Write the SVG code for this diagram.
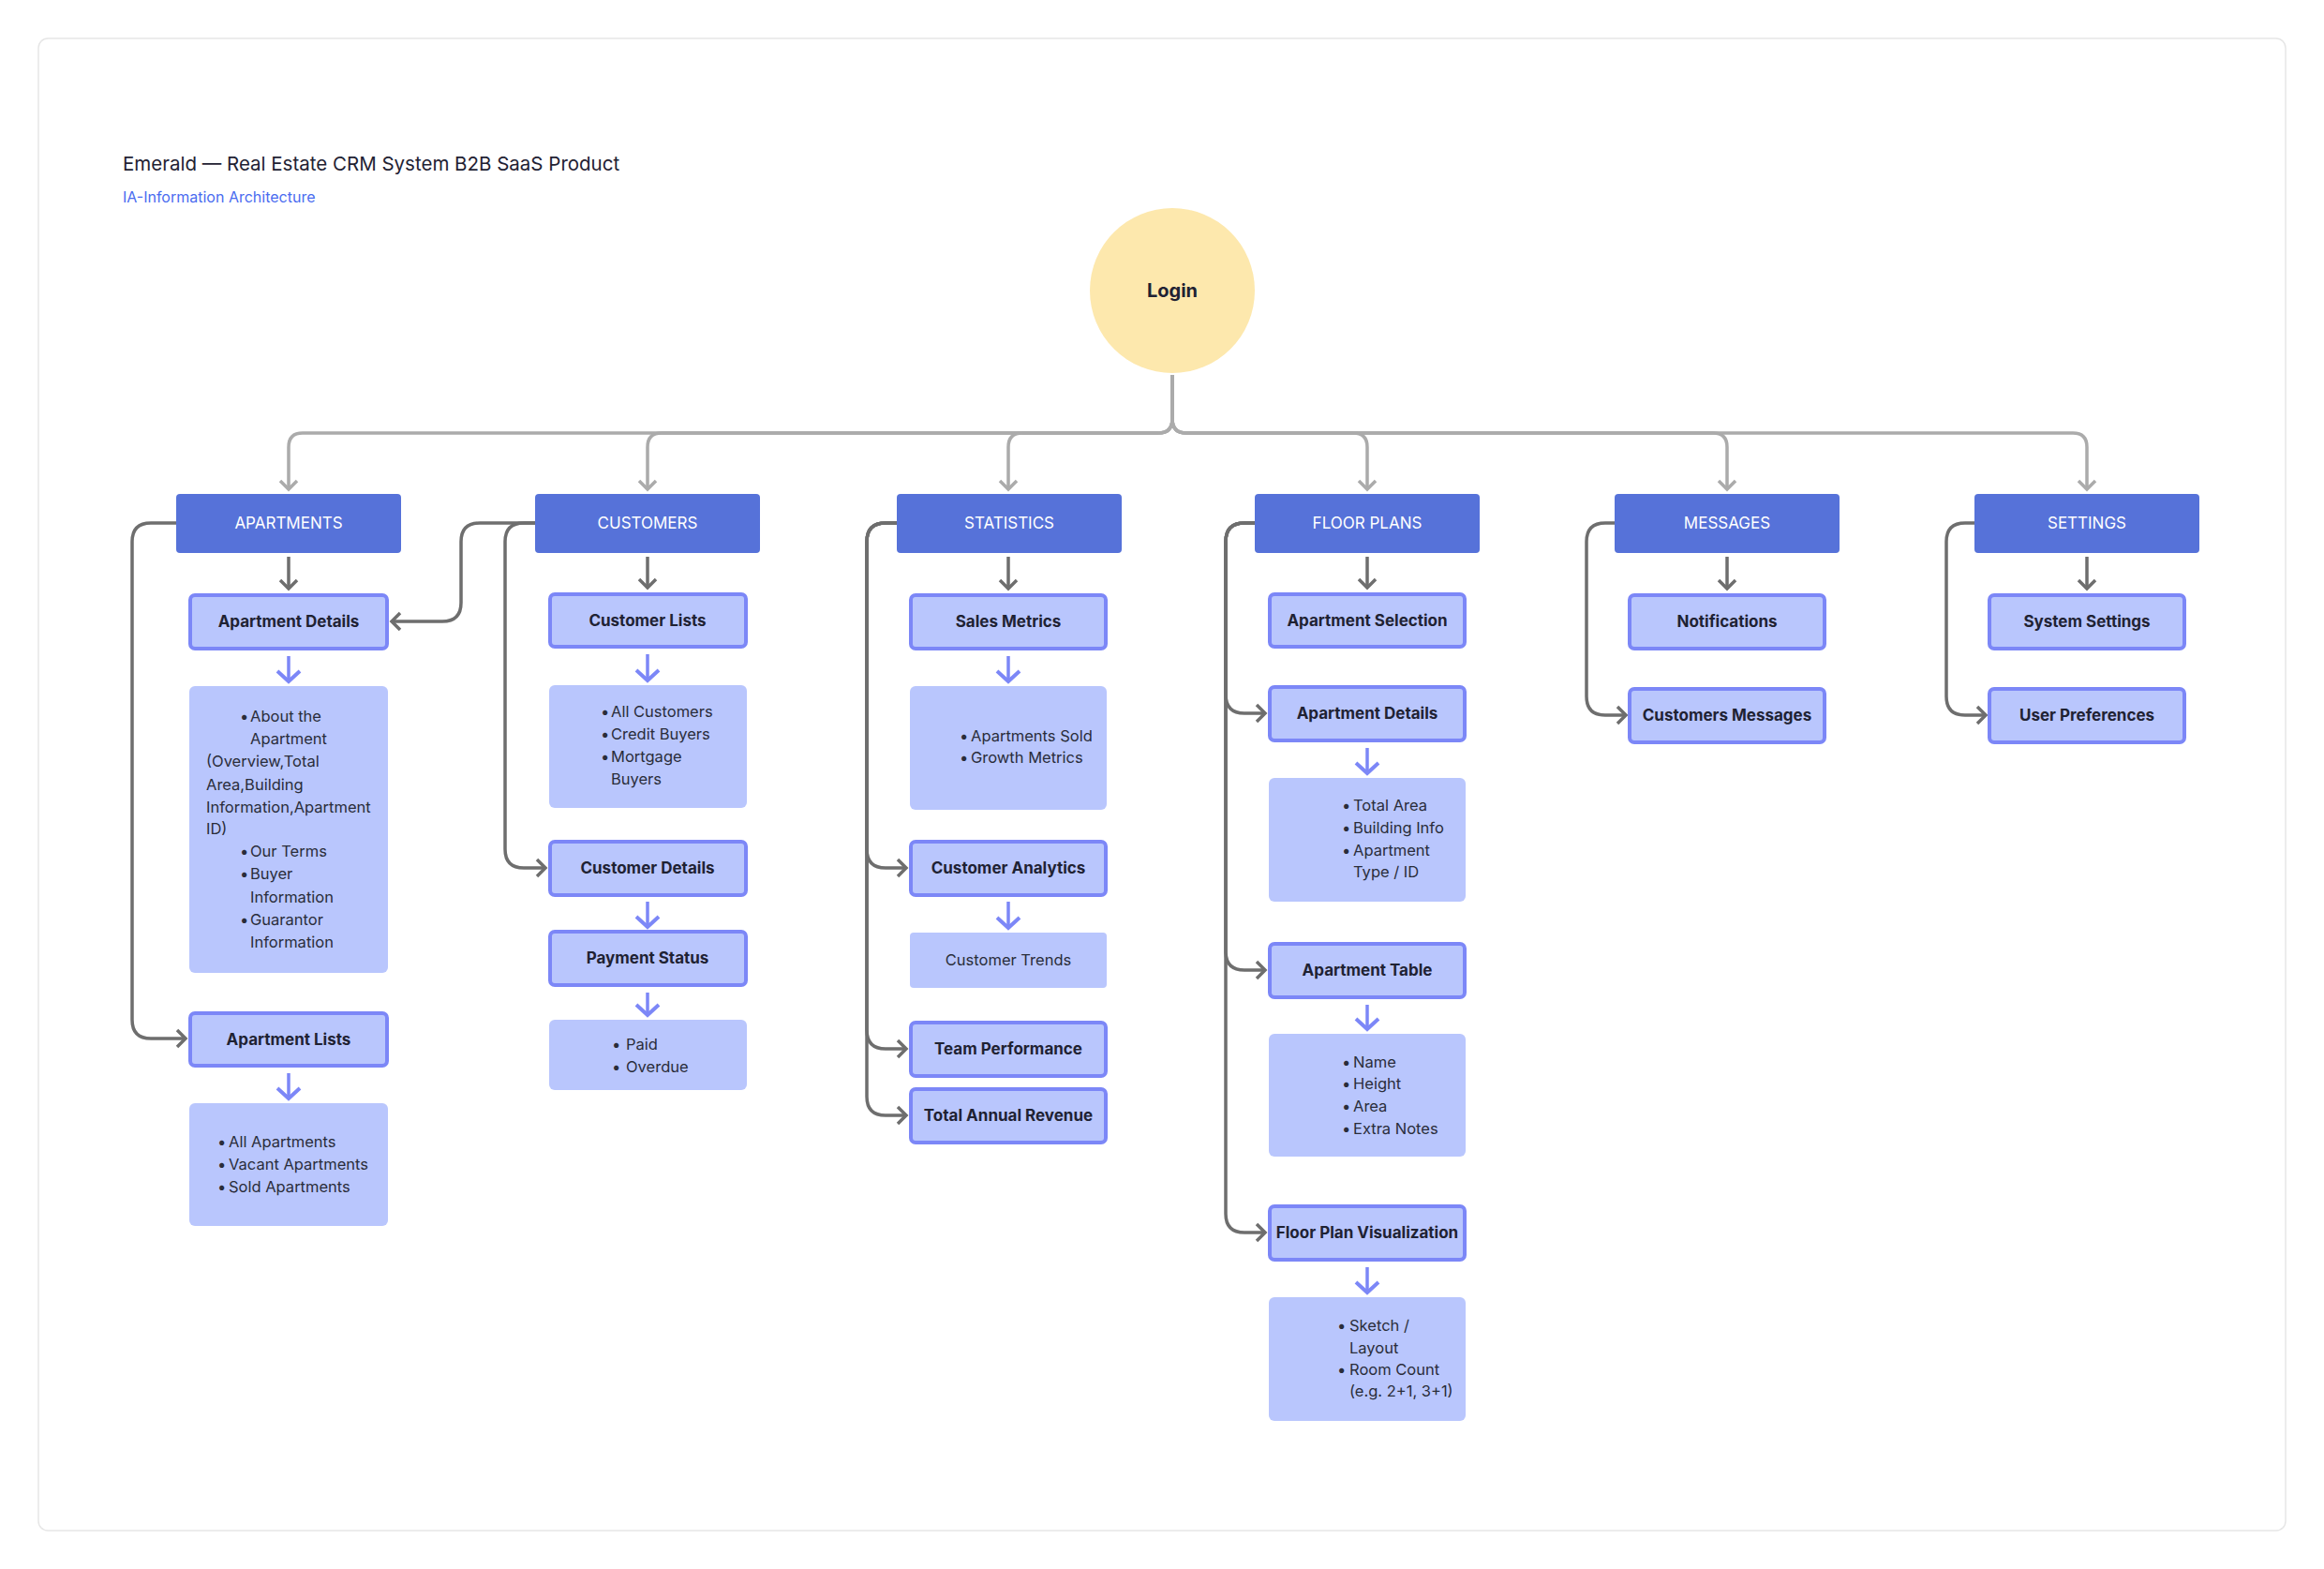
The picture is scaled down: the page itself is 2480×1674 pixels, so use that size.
<svg xmlns="http://www.w3.org/2000/svg" width="2480" height="1674" viewBox="0 0 2480 1674">
<style>
text{font-family:Inter,"Liberation Sans",sans-serif;fill:#1f2233}
.cat rect{fill:#5672d9}
.cat text{fill:#fff;font-size:17px;text-anchor:middle;dominant-baseline:central}
.sub rect{fill:#b9c6fd;stroke:#7c87f7;stroke-width:4}
.sub text{font-size:17px;font-weight:700;text-anchor:middle;dominant-baseline:central}
.info rect{fill:#b9c6fd}
.info text{font-size:16.5px;dominant-baseline:central;fill:#2a2d3a}
.g{fill:none;stroke:#6e6e6e;stroke-width:3.5}
.lg{fill:none;stroke:#ababab;stroke-width:3.5}
.b{fill:none;stroke:#7c87f7;stroke-width:3.5}
</style>
<defs>
<marker id="ad" markerUnits="userSpaceOnUse" markerWidth="24" markerHeight="24" viewBox="-12 -12 24 24" refX="0" refY="0" orient="auto"><path d="M-9,-9 L0,0 L-9,9" fill="none" stroke="#6e6e6e" stroke-width="3.5"/></marker>
<marker id="al" markerUnits="userSpaceOnUse" markerWidth="24" markerHeight="24" viewBox="-12 -12 24 24" refX="0" refY="0" orient="auto"><path d="M-9,-9 L0,0 L-9,9" fill="none" stroke="#ababab" stroke-width="3.5"/></marker>
<marker id="ab" markerUnits="userSpaceOnUse" markerWidth="28" markerHeight="28" viewBox="-14 -14 28 28" refX="0" refY="0" orient="auto"><path d="M-11,-12 L0,0 L-11,12" fill="none" stroke="#7c87f7" stroke-width="4"/></marker>
</defs>
<rect x="0" y="0" width="2480" height="1674" fill="#fff"/>
<rect x="41" y="41" width="2398" height="1592" rx="10" fill="#fff" stroke="#e6e6e6" stroke-width="1.5"/>
<text x="131" y="174" font-size="20.5" dominant-baseline="central">Emerald — Real Estate CRM System B2B SaaS Product</text>
<text x="131" y="210" font-size="16" dominant-baseline="central" style="fill:#4a6cf0">IA-Information Architecture</text>

<g id="connectors">
<path class="lg" marker-end="url(#al)" d="M1251,400 V447 Q1251,462 1236,462 H323 Q308,462 308,477 V522"/>
<path class="lg" marker-end="url(#al)" d="M1251,400 V447 Q1251,462 1236,462 H706 Q691,462 691,477 V522"/>
<path class="lg" marker-end="url(#al)" d="M1251,400 V447 Q1251,462 1236,462 H1091 Q1076,462 1076,477 V522"/>
<path class="lg" marker-end="url(#al)" d="M1251,400 V447 Q1251,462 1266,462 H1444 Q1459,462 1459,477 V522"/>
<path class="lg" marker-end="url(#al)" d="M1251,400 V447 Q1251,462 1266,462 H1828 Q1843,462 1843,477 V522"/>
<path class="lg" marker-end="url(#al)" d="M1251,400 V447 Q1251,462 1266,462 H2212 Q2227,462 2227,477 V522"/>
<g marker-end="url(#ad)">
<path class="g" d="M308,594 V628"/><path class="g" d="M691,594 V627"/><path class="g" d="M1076,594 V628"/>
<path class="g" d="M1459,594 V627"/><path class="g" d="M1843,594 V628"/><path class="g" d="M2227,594 V628"/>
<path class="g" d="M188,558 H161 Q141,558 141,578 V1088 Q141,1108 161,1108 H198"/>
<path class="g" d="M571,558 H559 Q539,558 539,578 V906 Q539,926 559,926 H582"/>
<path class="g" d="M571,558 H512 Q492,558 492,578 V643 Q492,663 472,663 H418"/>
<path class="g" d="M957,558 H945 Q925,558 925,578 V906 Q925,926 945,926 H967"/>
<path class="g" d="M957,558 H945 Q925,558 925,578 V1099 Q925,1119 945,1119 H967"/>
<path class="g" d="M957,558 H945 Q925,558 925,578 V1170 Q925,1190 945,1190 H967"/>
<path class="g" d="M1339,558 H1328 Q1308,558 1308,578 V741 Q1308,761 1328,761 H1350"/>
<path class="g" d="M1339,558 H1328 Q1308,558 1308,578 V1015 Q1308,1035 1328,1035 H1350"/>
<path class="g" d="M1339,558 H1328 Q1308,558 1308,578 V1295 Q1308,1315 1328,1315 H1350"/>
<path class="g" d="M1723,558 H1713 Q1693,558 1693,578 V743 Q1693,763 1713,763 H1735"/>
<path class="g" d="M2107,558 H2097 Q2077,558 2077,578 V743 Q2077,763 2097,763 H2119"/>
</g>
<g marker-end="url(#ab)">
<path class="b" d="M308,700 V727"/><path class="b" d="M308,1145 V1172"/>
<path class="b" d="M691,698 V726"/><path class="b" d="M691,962 V989"/><path class="b" d="M691,1059 V1083"/>
<path class="b" d="M1076,700 V727"/><path class="b" d="M1076,962 V990"/>
<path class="b" d="M1459,798 V825"/><path class="b" d="M1459,1072 V1098"/><path class="b" d="M1459,1352 V1379"/>
</g>
</g>

<g id="login"><circle cx="1251" cy="310" r="88" fill="#fde8ad"/><text x="1251" y="310" font-size="20" font-weight="700" text-anchor="middle" dominant-baseline="central">Login</text></g>

<g id="apartments" class="cat"><rect x="188" y="527" width="240" height="63" rx="4"/><text x="308" y="558">APARTMENTS</text></g>
<g id="customers" class="cat"><rect x="571" y="527" width="240" height="63" rx="4"/><text x="691" y="558">CUSTOMERS</text></g>
<g id="statistics" class="cat"><rect x="957" y="527" width="240" height="63" rx="4"/><text x="1077" y="558">STATISTICS</text></g>
<g id="floorplans" class="cat"><rect x="1339" y="527" width="240" height="63" rx="4"/><text x="1459" y="558">FLOOR PLANS</text></g>
<g id="messages" class="cat"><rect x="1723" y="527" width="240" height="63" rx="4"/><text x="1843" y="558">MESSAGES</text></g>
<g id="settings" class="cat"><rect x="2107" y="527" width="240" height="63" rx="4"/><text x="2227" y="558">SETTINGS</text></g>

<g id="apt-details" class="sub"><rect x="203" y="635" width="210" height="57" rx="5"/><text x="308" y="663">Apartment Details</text></g>
<g id="apt-details-info" class="info"><rect x="202" y="732" width="212" height="306" rx="6"/>
<text x="256" y="764">•</text><text x="267" y="764">About the</text><text x="267" y="788">Apartment</text>
<text x="220" y="812">(Overview,Total</text><text x="220" y="837">Area,Building</text><text x="220" y="861">Information,Apartment</text><text x="220" y="884">ID)</text>
<text x="256" y="908">•</text><text x="267" y="908">Our Terms</text>
<text x="256" y="932">•</text><text x="267" y="932">Buyer</text><text x="267" y="957">Information</text>
<text x="256" y="981">•</text><text x="267" y="981">Guarantor</text><text x="267" y="1005">Information</text></g>
<g id="apt-lists" class="sub"><rect x="203" y="1081" width="210" height="56" rx="5"/><text x="308" y="1109">Apartment Lists</text></g>
<g id="apt-lists-info" class="info"><rect x="202" y="1177" width="212" height="131" rx="6"/>
<text x="232" y="1218">•</text><text x="244" y="1218">All Apartments</text>
<text x="232" y="1242">•</text><text x="244" y="1242">Vacant Apartments</text>
<text x="232" y="1266">•</text><text x="244" y="1266">Sold Apartments</text></g>

<g id="cust-lists" class="sub"><rect x="587" y="634" width="209" height="56" rx="5"/><text x="691" y="662">Customer  Lists</text></g>
<g id="cust-lists-info" class="info"><rect x="586" y="731" width="211" height="131" rx="6"/>
<text x="641" y="759">•</text><text x="652" y="759">All Customers</text>
<text x="641" y="783">•</text><text x="652" y="783">Credit Buyers</text>
<text x="641" y="807">•</text><text x="652" y="807">Mortgage</text><text x="652" y="831">Buyers</text></g>
<g id="cust-details" class="sub"><rect x="587" y="898" width="209" height="57" rx="5"/><text x="691" y="926">Customer  Details</text></g>
<g id="payment" class="sub"><rect x="587" y="994" width="209" height="57" rx="5"/><text x="691" y="1022">Payment Status</text></g>
<g id="payment-info" class="info"><rect x="586" y="1088" width="211" height="75" rx="6"/>
<text x="653" y="1114">•</text><text x="668" y="1114">Paid</text>
<text x="653" y="1138">•</text><text x="668" y="1138">Overdue</text></g>

<g id="sales" class="sub"><rect x="972" y="635" width="208" height="57" rx="5"/><text x="1076" y="663">Sales Metrics</text></g>
<g id="sales-info" class="info"><rect x="971" y="732" width="210" height="132" rx="6"/>
<text x="1024" y="785">•</text><text x="1036" y="785">Apartments Sold</text>
<text x="1024" y="808">•</text><text x="1036" y="808">Growth Metrics</text></g>
<g id="cust-analytics" class="sub"><rect x="972" y="898" width="208" height="57" rx="5"/><text x="1076" y="926">Customer Analytics</text></g>
<g id="cust-trends" class="info"><rect x="971" y="995" width="210" height="59" rx="4"/><text x="1076" y="1024" text-anchor="middle">Customer Trends</text></g>
<g id="team" class="sub"><rect x="972" y="1091" width="208" height="57" rx="5"/><text x="1076" y="1119">Team Performance</text></g>
<g id="revenue" class="sub"><rect x="972" y="1162" width="208" height="57" rx="5"/><text x="1076" y="1190">Total Annual Revenue</text></g>

<g id="apt-selection" class="sub"><rect x="1355" y="634" width="208" height="56" rx="5"/><text x="1459" y="662">Apartment Selection</text></g>
<g id="fp-details" class="sub"><rect x="1355" y="733" width="208" height="57" rx="5"/><text x="1459" y="761">Apartment Details</text></g>
<g id="fp-details-info" class="info"><rect x="1354" y="830" width="210" height="132" rx="6"/>
<text x="1432" y="859">•</text><text x="1444" y="859">Total Area</text>
<text x="1432" y="883">•</text><text x="1444" y="883">Building Info</text>
<text x="1432" y="907">•</text><text x="1444" y="907">Apartment</text><text x="1444" y="930">Type / ID</text></g>
<g id="apt-table" class="sub"><rect x="1355" y="1007" width="208" height="57" rx="5"/><text x="1459" y="1035">Apartment Table</text></g>
<g id="apt-table-info" class="info"><rect x="1354" y="1103" width="210" height="131" rx="6"/>
<text x="1432" y="1133">•</text><text x="1444" y="1133">Name</text>
<text x="1432" y="1156">•</text><text x="1444" y="1156">Height</text>
<text x="1432" y="1180">•</text><text x="1444" y="1180">Area</text>
<text x="1432" y="1204">•</text><text x="1444" y="1204">Extra Notes</text></g>
<g id="fp-viz" class="sub"><rect x="1355" y="1287" width="208" height="57" rx="5"/><text x="1459" y="1315">Floor Plan Visualization</text></g>
<g id="fp-viz-info" class="info"><rect x="1354" y="1384" width="210" height="132" rx="6"/>
<text x="1427" y="1414" font-size="15.5">•</text><text x="1440" y="1414" font-size="15.5">Sketch /</text><text x="1440" y="1438" font-size="15.5">Layout</text>
<text x="1427" y="1461" font-size="15.5">•</text><text x="1440" y="1461" font-size="15.5">Room Count</text><text x="1440" y="1484" font-size="15.5">(e.g. 2+1, 3+1)</text></g>

<g id="notifications" class="sub"><rect x="1739" y="635" width="208" height="57" rx="5"/><text x="1843" y="663">Notifications</text></g>
<g id="cust-messages" class="sub"><rect x="1739" y="735" width="208" height="57" rx="5"/><text x="1843" y="763">Customers Messages</text></g>
<g id="system-settings" class="sub"><rect x="2123" y="635" width="208" height="57" rx="5"/><text x="2227" y="663">System Settings</text></g>
<g id="user-prefs" class="sub"><rect x="2123" y="735" width="208" height="57" rx="5"/><text x="2227" y="763">User Preferences</text></g>
</svg>
